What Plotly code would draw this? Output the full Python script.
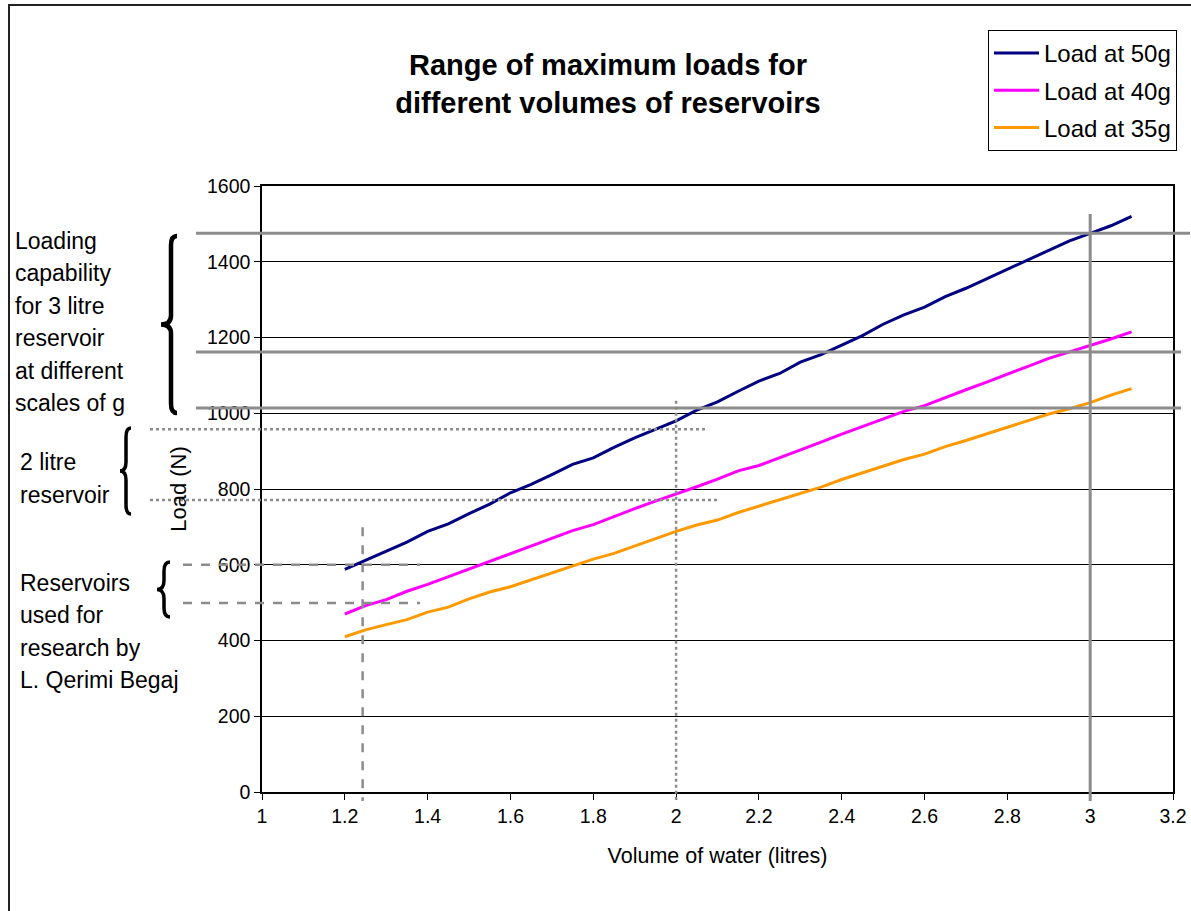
import plotly.graph_objects as go

# ---------------- data ----------------
volume = [1.2, 1.25, 1.3, 1.35, 1.4, 1.45, 1.5, 1.55, 1.6, 1.65, 1.7, 1.75, 1.8, 1.85, 1.9, 1.95,
          2.0, 2.05, 2.1, 2.15, 2.2, 2.25, 2.3, 2.35, 2.4, 2.45, 2.5, 2.55, 2.6, 2.65, 2.7, 2.75,
          2.8, 2.85, 2.9, 2.95, 3.0, 3.05, 3.1]
load_50g = [588, 612, 635, 660, 688, 708, 735, 760, 790, 812, 838, 865, 882, 910, 935, 958,
            980, 1008, 1030, 1058, 1085, 1105, 1135, 1155, 1180, 1205, 1235, 1260, 1280, 1308,
            1330, 1355, 1380, 1405, 1430, 1455, 1475, 1495, 1520]
load_40g = [470, 492, 508, 530, 548, 568, 588, 608, 628, 648, 668, 690, 706, 728, 748, 768,
            786, 806, 826, 848, 862, 882, 904, 924, 945, 965, 985, 1005, 1020, 1042, 1062, 1082,
            1102, 1124, 1145, 1162, 1178, 1196, 1215]
load_35g = [410, 428, 442, 455, 475, 488, 510, 528, 542, 560, 578, 598, 615, 630, 650, 668,
            688, 705, 718, 738, 755, 772, 790, 805, 825, 842, 860, 878, 892, 912, 928, 945,
            962, 980, 998, 1012, 1028, 1048, 1065]
series_names = ["Load at 50g", "Load at 40g", "Load at 35g"]
series_colors = ["#000080", "#FF00FF", "#FF9900"]

x_ticks = [1, 1.2, 1.4, 1.6, 1.8, 2, 2.2, 2.4, 2.6, 2.8, 3, 3.2]
y_ticks = [0, 200, 400, 600, 800, 1000, 1200, 1400, 1600]

# reference markers
levels_3l = [1475, 1162, 1014]        # 3 litre reservoir loads
levels_2l = [958, 771]                # 2 litre reservoir
levels_res = [600, 499]               # research reservoirs
vol_3l, vol_2l, vol_res = 3.0, 2.0, 1.243

text_3l = ["Loading", "capability", "for 3 litre", "reservoir", "at different", "scales of g"]
text_2l = ["2 litre", "reservoir"]
text_res = ["Reservoirs", "used for", "research by", "L. Qerimi Begaj"]

# ---------------- layout geometry ----------------
FW, FH = 1191, 911
L, T, R, B = 262, 186, 1173, 792
W, H = R - L, B - T
XMIN, XMAX, YMIN, YMAX = 1.0, 3.2, 0.0, 1600.0
FONT = "Liberation Sans, Arial, sans-serif"


def px(xp):
    return (xp - L) / W


def py(yp):
    return (B - yp) / H


def dx(v):
    return (v - XMIN) / (XMAX - XMIN)


def dy(v):
    return (v - YMIN) / (YMAX - YMIN)


fig = go.Figure()
for name, vals, col in zip(series_names, [load_50g, load_40g, load_35g], series_colors):
    fig.add_trace(go.Scatter(x=volume, y=vals, mode="lines", name=name, legendgroup=name,
                             line=dict(color=col, width=3)))

shapes = []
GRAY = "#8c8c8c"


def seg(x0, y0, x1, y1, color=GRAY, width=3, dash="solid"):
    shapes.append(dict(type="line", xref="paper", yref="paper", x0=x0, y0=y0, x1=x1, y1=y1,
                       line=dict(color=color, width=width, dash=dash), layer="above"))


# 3 litre: solid
for lv, xe in zip(levels_3l, [1190, 1181, 1181]):
    seg(px(196), dy(lv), px(xe), dy(lv))
seg(dx(vol_3l), dy(1526), dx(vol_3l), dy(-24))
# 2 litre: dotted
for lv, xe in zip(levels_2l, [707, 719]):
    seg(px(150), dy(lv), px(xe), dy(lv), width=2.5, dash="dot")
seg(dx(vol_2l), dy(1033), dx(vol_2l), dy(-24), width=2.5, dash="dot")
# research: dashed
for lv in levels_res:
    seg(px(183), dy(lv), px(420), dy(lv), width=2.5, dash="dash")
seg(dx(vol_res), dy(699), dx(vol_res), dy(-24), width=2.5, dash="dash")


def brace(xe, xs, xt, y0, y1, width):
    ym = (y0 + y1) / 2
    r = 9
    pts = [
        f"M {px(xe)},{py(y0)}",
        f"Q {px(xs)},{py(y0)} {px(xs)},{py(y0 + r)}",
        f"L {px(xs)},{py(ym - r)}",
        f"Q {px(xs)},{py(ym)} {px(xt)},{py(ym)}",
        f"Q {px(xs)},{py(ym)} {px(xs)},{py(ym + r)}",
        f"L {px(xs)},{py(y1 - r)}",
        f"Q {px(xs)},{py(y1)} {px(xe)},{py(y1)}",
    ]
    shapes.append(dict(type="path", xref="paper", yref="paper", path=" ".join(pts),
                       line=dict(color="#000000", width=width), layer="above"))


brace(177, 171, 161, 236, 413, 4.5)
brace(131, 126, 120, 428, 514, 3.5)
brace(170, 164, 157, 562, 617, 3.5)

# outer frame
shapes.append(dict(type="rect", xref="paper", yref="paper", x0=px(9), y0=py(FH + 20),
                   x1=px(FW + 20), y1=py(5), line=dict(color="#222222", width=2)))

annotations = []


def lines_text(lines, x_left, y_first, step):
    for i, t in enumerate(lines):
        annotations.append(dict(text=t, xref="paper", yref="paper", x=px(x_left),
                                y=py(y_first + i * step), xanchor="left", yanchor="middle",
                                showarrow=False, font=dict(family=FONT, size=23, color="#000")))


lines_text(text_3l, 13, 241, 32.4)
lines_text(text_2l, 18, 462, 33)
lines_text(text_res, 18, 583, 32.4)

fig.update_layout(
    width=FW, height=FH,
    margin=dict(l=L, r=FW - R, t=T, b=FH - B, autoexpand=False),
    paper_bgcolor="white", plot_bgcolor="white",
    font=dict(family=FONT, size=19, color="#000"),
    title=dict(text="<b>Range of maximum loads for<br>different volumes of reservoirs</b>",
               x=608 / FW, xanchor="center", xref="container",
               y=1 - 75 / FH, yanchor="middle", yref="container",
               font=dict(family=FONT, size=29, color="#000")),
    xaxis=dict(range=[XMIN, XMAX], tickvals=x_ticks, ticktext=[f"{v:g}" for v in x_ticks],
               showgrid=False, zeroline=False, showline=True, linecolor="#000", linewidth=1.5,
               mirror=True, ticks="outside", ticklen=6, tickcolor="#000",
               tickfont=dict(size=19.5),
               title=dict(text="Volume of water (litres)", font=dict(size=21.5), standoff=22)),
    yaxis=dict(range=[YMIN, YMAX], tickvals=y_ticks, showgrid=True, gridcolor="#000",
               gridwidth=1, zeroline=False, showline=True, linecolor="#000", linewidth=1.5,
               mirror=True, ticks="outside", ticklen=6, tickcolor="#000",
               tickfont=dict(size=19.5),
               title=dict(text="Load (N)", font=dict(size=22), standoff=14)),
    legend=dict(x=px(988), y=py(30), xanchor="left", yanchor="top",
                bordercolor="#000", borderwidth=1, bgcolor="white", itemwidth=45,
                font=dict(family=FONT, size=24), tracegroupgap=3),
    shapes=shapes,
    annotations=annotations,
)

fig.write_html("out.html")
